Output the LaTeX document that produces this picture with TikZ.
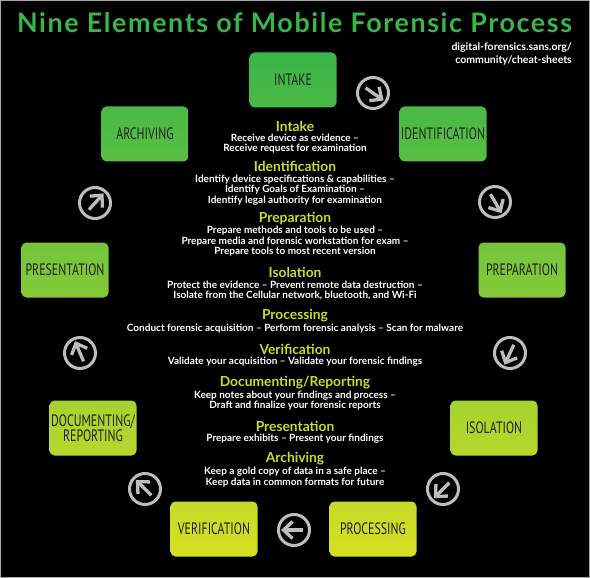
\documentclass[tikz,border=0pt]{standalone}
\usepackage{fontspec}
\setmainfont{Lato}
\newfontfamily\titlefont[LetterSpace=6]{Lato}
\newfontfamily\boxfont{PT Sans}
\usetikzlibrary{calc}
\definecolor{ggrn}{HTML}{39B54A}
\definecolor{gyel}{HTML}{D7DF23}
\definecolor{boxtxt}{HTML}{231F20}
\definecolor{headc}{HTML}{CBDB27}
\definecolor{ringc}{HTML}{BDBDBD}
\definecolor{titlec}{HTML}{3AB54A}
\newcommand{\bx}[1]{\scalebox{0.72}[1]{#1}}
\begin{document}
\begin{tikzpicture}[x=1pt,y=-1pt,
  box/.style 2 args={rounded corners=5pt, minimum width=87pt, minimum height=55pt,
    inner sep=0pt, top color=gyel!#1!ggrn, bottom color=gyel!#2!ggrn,
    text=boxtxt, align=center, font=\boxfont\fontsize{16.5}{15.5}\selectfont},
  head/.style={text=headc, font=\bfseries\fontsize{13.8}{14}\selectfont,
    inner xsep=0pt, inner ysep=-1.5pt},
  body/.style={text=white, align=center, font=\bfseries\fontsize{10}{10.4}\selectfont,
    inner xsep=0pt, inner ysep=-1.2pt},
  ring/.style={draw=ringc, line width=3pt},
  arr/.style={draw=ringc, line width=3.3pt, line cap=butt, line join=miter},
  cyc/.pic={
    \path[ring] (0,0) circle (15.5);
    \path[arr] (-9,0) -- (10,0);
    \path[arr] (1.5,-8.5) -- (10.5,0) -- (1.5,8.5);
  }]
\fill[black] (0,0) rectangle (590,578);
\useasboundingbox (0,0) rectangle (590,578);
\draw[gray!70, line width=1.2pt] (0.6,0.6) rectangle (589.4,577.4);

% title
\node[text=titlec, inner sep=0pt] (title) at (294.5,23)
  {\resizebox{555pt}{!}{\titlefont\bfseries\fontsize{28}{30}\selectfont Nine Elements of Mobile Forensic Process}};
\node[text=white, align=right, anchor=east, inner sep=0pt,
  font=\bfseries\fontsize{10.5}{13.5}\selectfont] (url) at (572,54)
  {digital-forensics.sans.org/\\community/cheat-sheets};

% boxes
\node[box={0}{11}]   (intake) at (293,80)  {\bx{INTAKE}};
\node[box={10}{21}]  (ident)  at (443,134) {\bx{IDENTIFICATION}};
\node[box={37}{48}]  (prep)   at (522,270) {\bx{PREPARATION}};
\node[box={69}{80}]  (iso)    at (494,428) {\bx{ISOLATION}};
\node[box={89}{100}] (proc)   at (373,529) {\bx{PROCESSING}};
\node[box={89}{100}] (verif)  at (214,529) {\bx{VERIFICATION}};
\node[box={69}{80}]  (docu)   at (93,428)  {\bx{DOCUMENTING/}\\\bx{REPORTING}};
\node[box={37}{48}]  (pres)   at (65,270)  {\bx{PRESENTATION}};
\node[box={10}{21}]  (arch)   at (145,134) {\bx{ARCHIVING}};

% cycle arrows
\pic[rotate=-35]  (a1) at (373,93)  {cyc};
\pic[rotate=-60]  (a2) at (495,202) {cyc};
\pic[rotate=-115] (a3) at (510,353) {cyc};
\pic[rotate=-135] (a4) at (443,489) {cyc};
\pic[rotate=180]  (a5) at (294,530) {cyc};
\pic[rotate=135]  (a6) at (145,489) {cyc};
\pic[rotate=113]  (a7) at (80,353)  {cyc};
\pic[rotate=48]   (a8) at (95,203)  {cyc};

% centre text
\node[head] (h1) at (295,126.5) {Intake};
\node[body] (b1) at (295,143.5) {Receive device as evidence --\\Receive request for examination};
\node[head] (h2) at (295,166.5) {Identification};
\node[body] (b2) at (295,190) {Identify device specifications \& capabilities --\\Identify Goals of Examination --\\Identify legal authority for examination};
\node[head] (h3) at (295,218.5) {Preparation};
\node[body] (b3) at (295,241.5) {Prepare methods and tools to be used --\\Prepare media and forensic workstation for exam --\\Prepare tools to most recent version};
\node[head] (h4) at (295,272.5) {Isolation};
\node[body] (b4) at (295,290.5) {Protect the evidence -- Prevent remote data destruction --\\Isolate from the Cellular network, bluetooth, and Wi-Fi};
\node[head] (h5) at (295,315.5) {Processing};
\node[body] (b5) at (295,328.5) {Conduct forensic acquisition -- Perform forensic analysis -- Scan for malware};
\node[head] (h6) at (295,349.5) {Verification};
\node[body] (b6) at (295,361.5) {Validate your acquisition -- Validate your forensic findings};
\node[head] (h7) at (295,382.5) {Documenting/Reporting};
\node[body] (b7) at (295,400.5) {Keep notes about your findings and process --\\Draft and finalize your forensic reports};
\node[head] (h8) at (295,426.5) {Presentation};
\node[body] (b8) at (295,438.5) {Prepare exhibits -- Present your findings};
\node[head] (h9) at (295,458.5) {Archiving};
\node[body] (b9) at (295,477) {Keep a gold copy of data in a safe place --\\Keep data in common formats for future};
\end{tikzpicture}
\end{document}
